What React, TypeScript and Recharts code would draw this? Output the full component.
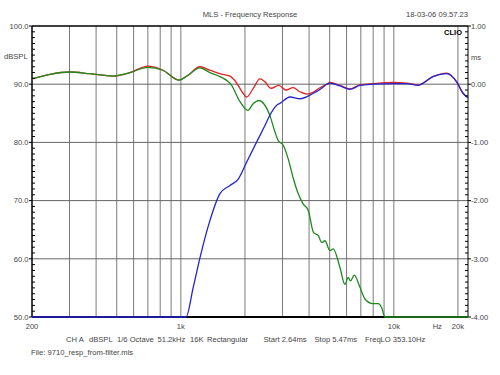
import React from "react"
import { LineChart, Line, XAxis, YAxis, ReferenceLine } from "recharts"

// shared low-frequency part (red and green sit on top of each other)
const lowFreq = [200, 243, 300, 374, 480, 577, 700, 824, 979, 1068, 1230]
const lowDbGreen = [90.9, 91.7, 92.1, 91.8, 91.4, 92.0, 92.9, 92.4, 90.7, 91.4, 92.8]
const lowDbRed = [90.9, 91.7, 92.1, 91.8, 91.4, 92.0, 93.1, 92.4, 90.7, 91.4, 93.0]

const redFreq = [1370, 1526, 1701, 1795, 1964, 2036, 2188, 2352, 2482, 2650, 2888, 3116, 3362, 3626, 3910, 4172, 4500, 4905, 5013, 5585, 6223, 6934, 7980, 9906, 11490, 12980, 15260, 17700, 19720, 21180, 22300]
const redDb = [92.4, 91.8, 91.4, 90.6, 88.4, 87.8, 89.3, 90.9, 90.4, 89.3, 89.8, 89.0, 89.4, 88.7, 88.3, 88.6, 89.4, 90.1, 90.3, 89.8, 89.2, 89.9, 90.1, 90.3, 90.2, 89.9, 91.3, 91.9, 90.4, 88.4, 87.7]

const greenFreq = [1370, 1526, 1732, 1895, 2066, 2180, 2336, 2456, 2620, 2766, 2867, 3026, 3184, 3375, 3548, 3757, 3966, 4200, 4418, 4584, 4748, 5013, 5196, 5585, 5895, 6110, 6260, 6520, 6934, 7318, 7980, 8450, 8768, 9086, 22300]
const greenDb = [92.0, 91.3, 89.8, 87.0, 85.5, 86.6, 87.2, 86.6, 84.6, 81.8, 80.3, 79.5, 77.3, 73.8, 71.3, 69.4, 68.3, 64.5, 64.0, 62.8, 63.1, 61.4, 61.7, 58.5, 55.6, 56.8, 56.2, 57.2, 55.1, 53.1, 52.3, 52.3, 51.6, 50.0, 50.0]

const blueFreq = [200, 1057, 1143, 1230, 1370, 1526, 1701, 1860, 2036, 2308, 2482, 2620, 2818, 2920, 3253, 3626, 4172, 4500, 4905, 5013, 5585, 6223, 6934, 7980, 9906, 11490, 12980, 15260, 17700, 19720, 21180, 22300]
const blueDb = [50, 50, 55.1, 60.2, 66.6, 71.2, 72.6, 73.7, 76.6, 80.6, 82.9, 84.7, 86.4, 86.7, 87.8, 87.5, 88.4, 89.1, 90.1, 90.2, 89.7, 89.1, 89.8, 90.0, 90.1, 90.1, 89.8, 91.3, 91.8, 90.4, 88.4, 87.7]

const xTicks = [200, 1000, 10000, 16000, 20000]
const xTickLabels: Record<number, string> = { 200: "200", 1000: "1k", 10000: "10k", 16000: "Hz", 20000: "20k" }
const gridFreqs = [300, 400, 500, 600, 700, 800, 900, 1000, 2000, 3000, 4000, 5000, 6000, 7000, 8000, 9000, 10000, 20000]
const gridDb = [60, 70, 80, 90]

const infoItems = [
  { text: "CH A", x: 66 },
  { text: "dBSPL", x: 89 },
  { text: "1/6 Octave", x: 117 },
  { text: "51.2kHz", x: 157.5 },
  { text: "16K", x: 190 },
  { text: "Rectangular", x: 207 },
  { text: "Start 2.64ms", x: 263.5 },
  { text: "Stop 5.47ms", x: 314.5 },
  { text: "FreqLO 353.10Hz", x: 365 },
]

const zip = (f: number[], d: number[]) => f.map((v, i) => ({ f: v, db: d[i] }))
const redData = zip([...lowFreq, ...redFreq], [...lowDbRed, ...redDb])
const greenData = zip([...lowFreq, ...greenFreq], [...lowDbGreen, ...greenDb])
const blueData = zip(blueFreq, blueDb)

const leftTicks: number[] = []
for (let v = 50; v <= 100; v++) leftTicks.push(v)
const rightTicks: number[] = []
for (let v = -40; v <= 10; v++) rightTicks.push(v / 10)

const FONT = "Arial, 'Liberation Sans', sans-serif"
const FS = 7.6
const TXT = "#444"

const LeftTick = ({ x, y, payload }: any) => {
  const v = payload.value
  const ax = x + 3
  if (v % 10 === 0) {
    return (
      <g>
        <line x1={ax - 3} x2={ax} y1={y} y2={y} stroke="#000" />
        <text x={ax - 3.5} y={y} dy={2.7} textAnchor="end" fontSize={FS} fill={TXT} fontFamily={FONT}>{v.toFixed(1)}</text>
      </g>
    )
  }
  return <line x1={ax} x2={ax + 3} y1={y} y2={y} stroke="#000" />
}

const RightTick = ({ x, y, payload }: any) => {
  const v = payload.value
  const ax = x - 3
  if (Math.round(v * 10) % 10 === 0) {
    return (
      <g>
        <line x1={ax} x2={ax + 3} y1={y} y2={y} stroke="#000" />
        <text x={ax + 3} y={y} dy={2.7} textAnchor="start" fontSize={FS} fill={TXT} fontFamily={FONT}>{v.toFixed(2)}</text>
      </g>
    )
  }
  return <line x1={ax - 3} x2={ax} y1={y} y2={y} stroke="#000" />
}

export default function App() {
  return (
    <div style={{ position: "absolute", left: 0, top: 0, width: 500, height: 375, background: "#fff", fontFamily: FONT }}>
      <LineChart width={500} height={375} margin={{ top: 26, right: 0, bottom: 0, left: 0 }}>
        <XAxis
          dataKey="f"
          type="number"
          scale="log"
          domain={[200, 22300]}
          ticks={xTicks}
          interval={0}
          tickFormatter={(v: number) => xTickLabels[v] ?? ""}
          height={58}
          tickSize={0}
          tickMargin={7}
          tickLine={false}
          axisLine={false}
          tick={{ fill: TXT, fontSize: FS, fontFamily: FONT }}
        />
        <YAxis
          yAxisId="left"
          type="number"
          domain={[50, 100]}
          ticks={leftTicks}
          interval={0}
          width={32}
          tickSize={0}
          tickMargin={3}
          tickLine={false}
          axisLine={{ stroke: "#000", strokeWidth: 1.5 }}
          tick={<LeftTick />}
        />
        <YAxis
          yAxisId="right"
          orientation="right"
          type="number"
          domain={[-4, 1]}
          allowDataOverflow
          ticks={rightTicks}
          interval={0}
          width={32}
          tickSize={0}
          tickMargin={3}
          tickLine={false}
          axisLine={{ stroke: "#000", strokeWidth: 1 }}
          tick={<RightTick />}
        />
        {gridFreqs.map((f) => (
          <ReferenceLine key={"v" + f} x={f} yAxisId="left" stroke="#7a7a7a" strokeWidth={1} zIndex={300} />
        ))}
        {gridDb.map((d) => (
          <ReferenceLine key={"h" + d} y={d} yAxisId="left" stroke="#666" strokeWidth={1} zIndex={300} />
        ))}
        <ReferenceLine y={100} yAxisId="left" stroke="#000" strokeWidth={1.5} zIndex={300} />
        <ReferenceLine y={50} yAxisId="left" stroke="#000" strokeWidth={2} zIndex={300} />
        <Line data={redData} dataKey="db" yAxisId="left" type="monotone" stroke="#e02424" strokeWidth={1.3} dot={false} isAnimationActive={false} zIndex={1000} />
        <Line data={greenData} dataKey="db" yAxisId="left" type="monotone" stroke="#1e8a1e" strokeWidth={1.3} dot={false} isAnimationActive={false} zIndex={1001} />
        <Line data={blueData} dataKey="db" yAxisId="left" type="monotone" stroke="#2424d0" strokeWidth={1.3} dot={false} isAnimationActive={false} zIndex={1002} />
      </LineChart>

      <svg width={500} height={375} style={{ position: "absolute", left: 0, top: 0, pointerEvents: "none" }} fontFamily={FONT} fontSize={FS} fill={TXT}>
        <text x={250} y={16.7} textAnchor="middle">MLS - Frequency Response</text>
        <text x={468} y={16.7} textAnchor="end">18-03-06 09.57.23</text>
        <text x={462} y={34.7} textAnchor="end" fontWeight="bold" fill="#000" fontSize={7.5}>CLIO</text>
        <text x={4} y={58.7}>dBSPL</text>
        <text x={471} y={59.7}>ms</text>
        {infoItems.map((it) => (
          <text key={it.text} x={it.x} y={341.7}>{it.text}</text>
        ))}
        <text x={31} y={354.7}>File: 9710_resp_from-filter.mls</text>
      </svg>
    </div>
  )
}
